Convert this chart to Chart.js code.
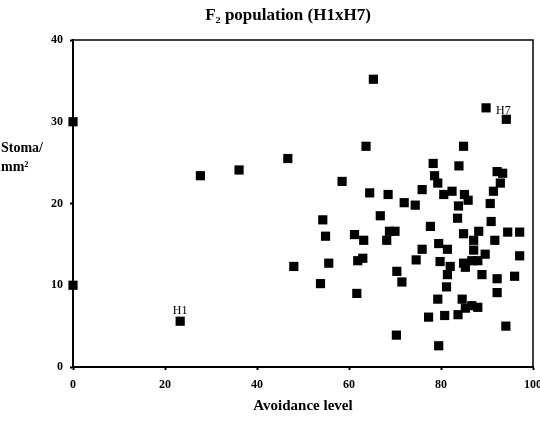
<!DOCTYPE html>
<html>
<head>
<meta charset="utf-8">
<script src="https://cdn.jsdelivr.net/npm/chart.js@4.4.0/dist/chart.umd.min.js"></script>
<style>
  html, body { margin: 0; padding: 0; background: #fff; }
</style>
</head>
<body>
<canvas id="stoma-chart" width="540" height="429"></canvas>
<script>
// F2 plants: avoidance level (x) vs stomata per mm2 (y)
const avoidance = [
  0, 0, 27.7, 36.1, 46.7, 48.0, 54.3, 54.9, 55.6, 53.8, 58.5,
  61.2, 61.9, 63.0, 61.7, 63.2, 63.7, 64.5, 65.3, 66.8, 68.5,
  68.8, 70.0, 68.2, 70.4, 71.5, 70.3, 72.0, 74.4, 74.6, 75.9,
  75.9, 77.7, 77.3, 78.3, 78.6, 79.3, 79.5, 79.8, 79.3, 79.5,
  80.6, 81.4, 81.4, 81.2, 80.8, 82.4, 82.0, 83.9, 83.8, 83.6,
  83.7, 84.9, 85.1, 85.9, 84.9, 84.9, 85.3, 84.6, 85.3, 86.7,
  86.7, 87.1, 87.1, 88.2, 88.0, 88.9, 88.0, 89.6, 90.7, 90.9,
  91.4, 91.7, 92.2, 92.9, 93.4, 92.2, 92.2, 94.2, 94.5, 94.1,
  96.0, 97.1, 97.1
];
const stomata = [
  30, 10, 23.4, 24.1, 25.5, 12.3, 18.0, 16.0, 12.7, 10.2, 22.7,
  16.2, 13.0, 13.3, 9.0, 15.5, 27.0, 21.3, 35.2, 18.5, 21.1,
  16.6, 16.6, 15.5, 11.7, 10.4, 3.9, 20.1, 19.8, 13.1, 21.7,
  14.4, 17.2, 6.1, 24.9, 23.4, 22.5, 15.1, 12.9, 8.3, 2.6,
  21.1, 14.4, 11.3, 9.8, 6.3, 21.5, 12.3, 24.6, 19.7, 18.2,
  6.4, 27.0, 21.1, 20.4, 16.3, 12.7, 12.2, 8.3, 7.2, 13.0,
  7.5, 15.5, 14.3, 16.6, 13.0, 11.3, 7.3, 13.8, 20.0, 17.8,
  21.5, 15.5, 23.9, 22.5, 23.7, 10.8, 9.1, 30.3, 16.5, 5.0,
  11.1, 16.5, 13.6
];

// parents
const parentNames = ["H1", "H7"];
const parentAvoidance = [23.3, 89.8];
const parentStomata = [5.6, 31.7];

const xTicks = [0, 20, 40, 60, 80, 100];
const yTicks = [0, 10, 20, 30, 40];

const serif = "'Liberation Serif', 'DejaVu Serif', serif";

const toPoints = (xs, ys) => xs.map((x, i) => ({ x: x, y: ys[i] }));

const overlay = {
  id: "overlay",
  beforeDatasetsDraw(chart) {
    const { ctx, chartArea: a } = chart;
    ctx.save();
    ctx.strokeStyle = "#000";
    ctx.lineWidth = 1.5;
    ctx.beginPath();
    ctx.moveTo(a.left, a.top);
    ctx.lineTo(a.right, a.top);
    ctx.lineTo(a.right, a.bottom);
    ctx.stroke();
    ctx.restore();
  },
  afterDraw(chart) {
    const ctx = chart.ctx;
    ctx.save();
    ctx.fillStyle = "#000";
    ctx.textBaseline = "middle";

    // title
    ctx.font = "bold 17px " + serif;
    ctx.textAlign = "center";
    ctx.fillText("F\u2082 population (H1xH7)", 288, 16);

    // y axis title, written flat in two lines
    ctx.font = "bold 14px " + serif;
    ctx.textAlign = "left";
    ctx.fillText("Stoma/", 1, 148);
    ctx.fillText("mm\u00b2", 1, 167);

    // parent labels
    const meta = chart.getDatasetMeta(1);
    ctx.font = "12px " + serif;
    meta.data.forEach((pt, i) => {
      if (i === 0) {
        ctx.textAlign = "center";
        ctx.fillText(parentNames[i], pt.x, pt.y - 10);
      } else {
        ctx.textAlign = "left";
        ctx.fillText(parentNames[i], pt.x + 10, pt.y + 3);
      }
    });
    ctx.restore();
  },
};

const tickFont = { family: serif, size: 12, weight: "bold" };

new Chart(document.getElementById("stoma-chart"), {
  type: "scatter",
  data: {
    datasets: [
      {
        label: "F2",
        data: toPoints(avoidance, stomata),
        pointStyle: "rect",
        pointRadius: 6.5,
        pointBorderWidth: 0,
        backgroundColor: "#000",
        clip: false,
      },
      {
        label: "Parents",
        data: toPoints(parentAvoidance, parentStomata),
        pointStyle: "rect",
        pointRadius: 6.5,
        pointBorderWidth: 0,
        backgroundColor: "#000",
        clip: false,
      },
    ],
  },
  options: {
    responsive: false,
    animation: false,
    devicePixelRatio: 1,
    layout: { padding: { top: 40, right: 7, left: 0, bottom: 0 } },
    plugins: {
      legend: { display: false },
      tooltip: { enabled: false },
    },
    scales: {
      x: {
        type: "linear",
        min: 0,
        max: 100,
        afterBuildTicks: (scale) => {
          scale.ticks = xTicks.map((v) => ({ value: v }));
        },
        afterFit: (scale) => {
          scale.height = 62;
          scale.paddingLeft = 0;
          scale.paddingRight = 0;
        },
        grid: {
          drawOnChartArea: false,
          drawTicks: true,
          tickLength: 3,
          tickColor: "#000",
          tickWidth: 2,
        },
        border: { display: true, color: "#000", width: 2 },
        ticks: { color: "#000", font: tickFont, padding: 8, maxRotation: 0 },
        title: {
          display: true,
          text: "Avoidance level",
          color: "#000",
          font: { family: serif, size: 15, weight: "bold" },
          padding: { top: 0, bottom: 14 },
        },
      },
      y: {
        type: "linear",
        min: 0,
        max: 40,
        afterBuildTicks: (scale) => {
          scale.ticks = yTicks.map((v) => ({ value: v }));
        },
        afterFit: (scale) => {
          scale.width = 73;
          scale.paddingTop = 0;
          scale.paddingBottom = 0;
        },
        grid: {
          drawOnChartArea: false,
          drawTicks: true,
          tickLength: 3,
          tickColor: "#000",
          tickWidth: 2,
        },
        border: { display: true, color: "#000", width: 2 },
        ticks: { color: "#000", font: tickFont, padding: 7 },
      },
    },
  },
  plugins: [overlay],
});
</script>
</body>
</html>
